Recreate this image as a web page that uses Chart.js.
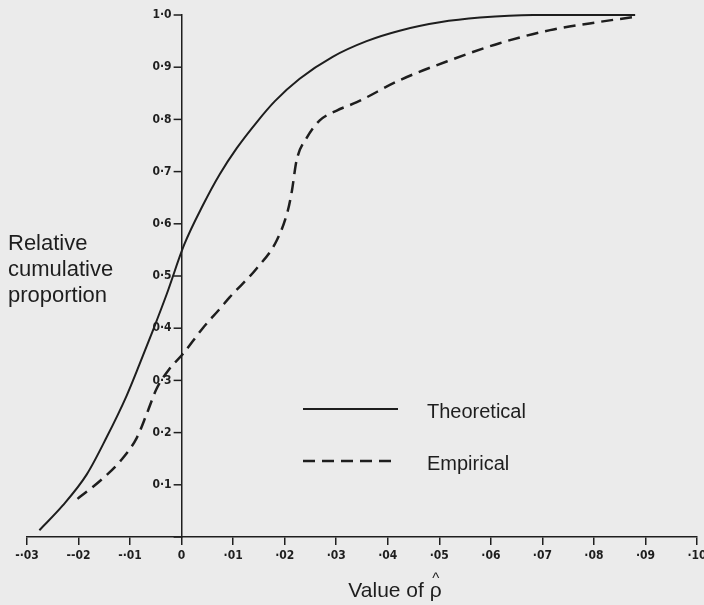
<!DOCTYPE html>
<html>
<head>
<meta charset="utf-8">
<script src="https://cdn.jsdelivr.net/npm/chart.js@4/dist/chart.umd.min.js"></script>
<style>
  html, body { margin: 0; padding: 0; background: #ebebeb; }
  #wrap { width: 704px; height: 605px; }
</style>
</head>
<body>
<div id="wrap"><canvas id="myChart" width="704" height="605"></canvas></div>
<script>
// values
var theoX = [-0.0276, -0.0231, -0.0184, -0.0146, -0.0107, -0.0082, -0.0056, -0.0029, 0.0005, 0.0041, 0.0074, 0.0107, 0.0146, 0.0181, 0.0229, 0.0293, 0.0359, 0.0423, 0.0501, 0.0579, 0.0682, 0.088];
var theoY = [0.013, 0.060, 0.120, 0.190, 0.270, 0.330, 0.395, 0.465, 0.560, 0.635, 0.695, 0.745, 0.795, 0.835, 0.878, 0.920, 0.950, 0.970, 0.986, 0.995, 1.0, 1.0];

var empX = [-0.0202, -0.0153, -0.0115, -0.0087, -0.0068, -0.0049, -0.0023, 0.0002, 0.0041, 0.0074, 0.0093, 0.0146, 0.0184, 0.0206, 0.0214, 0.0223, 0.0243, 0.0268, 0.0301, 0.0340, 0.0423, 0.0520, 0.0617, 0.0715, 0.0812, 0.0876];
var empY = [0.073, 0.112, 0.150, 0.190, 0.235, 0.283, 0.323, 0.350, 0.400, 0.437, 0.459, 0.515, 0.567, 0.625, 0.663, 0.721, 0.765, 0.798, 0.817, 0.833, 0.875, 0.913, 0.946, 0.971, 0.987, 0.996];

var xTickValues = [-0.03, -0.02, -0.01, 0, 0.01, 0.02, 0.03, 0.04, 0.05, 0.06, 0.07, 0.08, 0.09, 0.10];
var xTickLabels = ['-·03', '--02', '-·01', '0', '·01', '·02', '·03', '·04', '·05', '·06', '·07', '·08', '·09', '·10'];
var yTickValues = [0, 0.1, 0.2, 0.3, 0.4, 0.5, 0.6, 0.7, 0.8, 0.9, 1.0];
var yTickLabels = ['', '0·1', '0·2', '0·3', '0·4', '0·5', '0·6', '0·7', '0·8', '0·9', '1·0'];

var seriesNames = ['Theoretical', 'Empirical'];
var ink = '#1e1e1e';

function pairs(xs, ys) {
  var out = [];
  for (var i = 0; i < xs.length; i++) out.push({x: xs[i], y: ys[i]});
  return out;
}

var tickFont = {family: "'DejaVu Sans Condensed', 'DejaVu Sans', sans-serif", size: 12, weight: 'bold'};

// y axis sits at x = 0, so its ticks/labels are drawn here;
// plus the captions and the key
var extras = {
  id: 'extras',
  afterDraw: function(chart) {
    var c = chart.ctx;
    var xs = chart.scales.x, ys = chart.scales.y;
    var x0 = xs.getPixelForValue(0);
    c.save();
    c.strokeStyle = ink;
    c.fillStyle = ink;
    c.lineWidth = 1.5;
    c.font = 'bold 12px ' + tickFont.family;
    c.textAlign = 'right';
    c.textBaseline = 'middle';
    for (var i = 0; i < yTickValues.length; i++) {
      var py = ys.getPixelForValue(yTickValues[i]);
      c.beginPath();
      c.moveTo(x0 - 8, py);
      c.lineTo(x0, py);
      c.stroke();
      c.fillText(yTickLabels[i], x0 - 10, py);
    }

    c.font = "22px 'Liberation Sans', Arial, sans-serif";
    c.textAlign = 'left';
    c.fillText('Relative', 8, 244);
    c.fillText('cumulative', 8, 270);
    c.fillText('proportion', 8, 296);

    c.font = "21px 'Liberation Sans', Arial, sans-serif";
    var t = 'Value of ';
    var tw = c.measureText(t + 'ρ').width;
    var tx = 395 - tw / 2;
    c.fillText(t + 'ρ', tx, 591);
    var rx = tx + c.measureText(t).width + c.measureText('ρ').width / 2;
    c.font = "15px 'Liberation Sans', Arial, sans-serif";
    c.textAlign = 'center';
    c.fillText('^', rx, 579);

    // key
    c.font = "20px 'Liberation Sans', Arial, sans-serif";
    var ds = chart.data.datasets;
    var rows = [409, 461];
    for (var k = 0; k < ds.length; k++) {
      c.beginPath();
      c.lineWidth = ds[k].borderWidth;
      c.strokeStyle = ds[k].borderColor;
      c.setLineDash(ds[k].borderDash || []);
      c.moveTo(303, rows[k]);
      c.lineTo(398, rows[k]);
      c.stroke();
      c.setLineDash([]);
      c.textAlign = 'left';
      c.fillText(ds[k].label, 427, rows[k] + 3);
    }
    c.restore();
  }
};

var ctx = document.getElementById('myChart').getContext('2d');
var chart = new Chart(ctx, {
  type: 'line',
  data: {
    datasets: [{
      label: seriesNames[0],
      data: pairs(theoX, theoY),
      borderColor: ink,
      borderWidth: 2,
      pointRadius: 0,
      cubicInterpolationMode: 'monotone',
      fill: false,
      clip: 6
    }, {
      label: seriesNames[1],
      data: pairs(empX, empY),
      borderColor: ink,
      borderWidth: 2.5,
      borderDash: [12, 7],
      pointRadius: 0,
      cubicInterpolationMode: 'monotone',
      fill: false,
      clip: 6
    }]
  },
  options: {
    responsive: false,
    animation: false,
    layout: {padding: {left: 27, right: 7, top: 15, bottom: 0}},
    plugins: {legend: {display: false}, tooltip: {enabled: false}},
    scales: {
      x: {
        type: 'linear',
        position: 'bottom',
        min: -0.03,
        max: 0.10,
        afterBuildTicks: function(s) { s.ticks = xTickValues.map(function(v) { return {value: v}; }); },
        afterFit: function(s) { s.height = 68; s.paddingLeft = 0; s.paddingRight = 0; },
        ticks: {
          callback: function(v, i) { return xTickLabels[i]; },
          font: tickFont, color: ink, padding: 4, maxRotation: 0, autoSkip: false
        },
        grid: {drawOnChartArea: false, drawTicks: true, tickLength: 8, color: ink, lineWidth: 1.5},
        border: {color: ink, width: 1.5}
      },
      y: {
        type: 'linear',
        position: {x: 0},
        min: 0,
        max: 1.0,
        afterBuildTicks: function(s) { s.ticks = yTickValues.map(function(v) { return {value: v}; }); },
        afterFit: function(s) { s.paddingTop = 0; s.paddingBottom = 0; },
        ticks: {display: false},
        grid: {drawOnChartArea: false, drawTicks: false},
        border: {color: ink, width: 1.5}
      }
    }
  },
  plugins: [extras]
});
</script>
</body>
</html>
